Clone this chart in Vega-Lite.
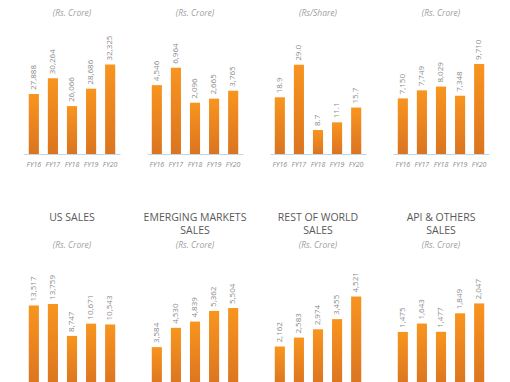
{
  "$schema": "https://vega.github.io/schema/vega-lite/v6.json",
  "padding": {"left": 24, "top": 8, "right": 5, "bottom": 5},
  "background": "white",
  "config": {
    "view": {"stroke": null},
    "font": "Open Sans",
    "title": {"anchor": "middle", "font": "Open Sans", "fontSize": 10.5, "fontWeight": "normal", "color": "#595959", "lineHeight": 13.5, "subtitleFont": "Open Sans", "subtitleFontSize": 8.5, "subtitleFontStyle": "italic", "subtitleColor": "#a0a0a0", "subtitlePadding": 4, "offset": 7},
    "axisX": {"labelFontSize": 7, "labelFontStyle": "italic", "labelColor": "#8c8c8c", "labelAngle": 0, "ticks": false, "domainColor": "#bdd7ee", "domainWidth": 1, "labelPadding": 6, "title": null, "grid": false},
    "bar": {"color": {"gradient": "linear", "x1": 0, "y1": 0, "x2": 0, "y2": 1, "stops": [{"offset": 0, "color": "#F8951F"}, {"offset": 1, "color": "#DB7420"}]}},
    "text": {"angle": 270, "align": "left", "baseline": "middle", "dx": 4, "fontSize": 8, "color": "#8a8a8a"}
  },
  "datasets": {
    "d": [
      {"panel": "p1", "year": "FY16", "value": 27888},
      {"panel": "p1", "year": "FY17", "value": 30264},
      {"panel": "p1", "year": "FY18", "value": 26066},
      {"panel": "p1", "year": "FY19", "value": 28686},
      {"panel": "p1", "year": "FY20", "value": 32325},
      {"panel": "p2", "year": "FY16", "value": 4546},
      {"panel": "p2", "year": "FY17", "value": 6964},
      {"panel": "p2", "year": "FY18", "value": 2096},
      {"panel": "p2", "year": "FY19", "value": 2665},
      {"panel": "p2", "year": "FY20", "value": 3765},
      {"panel": "p3", "year": "FY16", "value": 18.9},
      {"panel": "p3", "year": "FY17", "value": 29.0},
      {"panel": "p3", "year": "FY18", "value": 8.7},
      {"panel": "p3", "year": "FY19", "value": 11.1},
      {"panel": "p3", "year": "FY20", "value": 15.7},
      {"panel": "p4", "year": "FY16", "value": 7150},
      {"panel": "p4", "year": "FY17", "value": 7749},
      {"panel": "p4", "year": "FY18", "value": 8029},
      {"panel": "p4", "year": "FY19", "value": 7348},
      {"panel": "p4", "year": "FY20", "value": 9710},
      {"panel": "us", "year": "FY16", "value": 13517},
      {"panel": "us", "year": "FY17", "value": 13759},
      {"panel": "us", "year": "FY18", "value": 8747},
      {"panel": "us", "year": "FY19", "value": 10671},
      {"panel": "us", "year": "FY20", "value": 10543},
      {"panel": "em", "year": "FY16", "value": 3584},
      {"panel": "em", "year": "FY17", "value": 4530},
      {"panel": "em", "year": "FY18", "value": 4839},
      {"panel": "em", "year": "FY19", "value": 5362},
      {"panel": "em", "year": "FY20", "value": 5504},
      {"panel": "row", "year": "FY16", "value": 2162},
      {"panel": "row", "year": "FY17", "value": 2583},
      {"panel": "row", "year": "FY18", "value": 2974},
      {"panel": "row", "year": "FY19", "value": 3455},
      {"panel": "row", "year": "FY20", "value": 4521},
      {"panel": "api", "year": "FY16", "value": 1475},
      {"panel": "api", "year": "FY17", "value": 1643},
      {"panel": "api", "year": "FY18", "value": 1477},
      {"panel": "api", "year": "FY19", "value": 1849},
      {"panel": "api", "year": "FY20", "value": 2047}
    ]
  },
  "vconcat": [
    {
      "bounds": "flush",
      "spacing": 27,
      "hconcat": [
        {
          "width": 96, "height": 130,
          "title": {"text": "(Rs. Crore)", "fontSize": 8.5, "fontStyle": "italic", "color": "#a0a0a0"},
          "data": {"name": "d"},
          "transform": [{"filter": {"field": "panel", "equal": "p1"}}],
          "encoding": {
            "x": {"field": "year", "type": "nominal", "scale": {"paddingInner": 0.47, "paddingOuter": 0.25}},
            "y": {"field": "value", "type": "quantitative", "scale": {"domain": [18850, 38428], "zero": false, "nice": false}, "axis": null}
          },
          "layer": [
            {"mark": "bar", "encoding": {"y2": {"datum": 18850}}},
            {"mark": "text", "encoding": {"text": {"field": "value", "type": "quantitative", "format": ","}}}
          ]
        },
        {
          "width": 96, "height": 130,
          "title": {"text": "(Rs. Crore)", "fontSize": 8.5, "fontStyle": "italic", "color": "#a0a0a0"},
          "data": {"name": "d"},
          "transform": [{"filter": {"field": "panel", "equal": "p2"}}],
          "encoding": {
            "x": {"field": "year", "type": "nominal", "scale": {"paddingInner": 0.47, "paddingOuter": 0.25}},
            "y": {"field": "value", "type": "quantitative", "scale": {"domain": [-5059, 13072], "zero": false, "nice": false}, "axis": null}
          },
          "layer": [
            {"mark": "bar", "encoding": {"y2": {"datum": -5059}}},
            {"mark": "text", "encoding": {"text": {"field": "value", "type": "quantitative", "format": ","}}}
          ]
        },
        {
          "width": 96, "height": 130,
          "title": {"text": "(Rs/Share)", "fontSize": 8.5, "fontStyle": "italic", "color": "#a0a0a0"},
          "data": {"name": "d"},
          "transform": [{"filter": {"field": "panel", "equal": "p3"}}],
          "encoding": {
            "x": {"field": "year", "type": "nominal", "scale": {"paddingInner": 0.47, "paddingOuter": 0.25}},
            "y": {"field": "value", "type": "quantitative", "scale": {"domain": [1.23, 41.73], "zero": false, "nice": false}, "axis": null}
          },
          "layer": [
            {"mark": "bar", "encoding": {"y2": {"datum": 1.23}}},
            {"mark": "text", "encoding": {"text": {"field": "value", "type": "quantitative", "format": ".1f"}}}
          ]
        },
        {
          "width": 96, "height": 130,
          "title": {"text": "(Rs. Crore)", "fontSize": 8.5, "fontStyle": "italic", "color": "#a0a0a0"},
          "data": {"name": "d"},
          "transform": [{"filter": {"field": "panel", "equal": "p4"}}],
          "encoding": {
            "x": {"field": "year", "type": "nominal", "scale": {"paddingInner": 0.47, "paddingOuter": 0.25}},
            "y": {"field": "value", "type": "quantitative", "scale": {"domain": [3019, 12677], "zero": false, "nice": false}, "axis": null}
          },
          "layer": [
            {"mark": "bar", "encoding": {"y2": {"datum": 3019}}},
            {"mark": "text", "encoding": {"text": {"field": "value", "type": "quantitative", "format": ","}}}
          ]
        }
      ]
    },
    {
      "bounds": "flush",
      "spacing": 27,
      "hconcat": [
        {
          "width": 96, "height": 130,
          "title": {"text": ["US SALES", " "], "subtitle": "(Rs. Crore)"},
          "data": {"name": "d"},
          "transform": [{"filter": {"field": "panel", "equal": "us"}}],
          "encoding": {
            "x": {"field": "year", "type": "nominal", "scale": {"paddingInner": 0.47, "paddingOuter": 0.25}, "axis": {"labels": false}},
            "y": {"field": "value", "type": "quantitative", "scale": {"domain": [898, 21274], "zero": false, "nice": false}, "axis": null}
          },
          "layer": [
            {"mark": "bar", "encoding": {"y2": {"datum": 898}}},
            {"mark": "text", "encoding": {"text": {"field": "value", "type": "quantitative", "format": ","}}}
          ]
        },
        {
          "width": 96, "height": 130,
          "title": {"text": ["EMERGING MARKETS", "SALES"], "subtitle": "(Rs. Crore)"},
          "data": {"name": "d"},
          "transform": [{"filter": {"field": "panel", "equal": "em"}}],
          "encoding": {
            "x": {"field": "year", "type": "nominal", "scale": {"paddingInner": 0.47, "paddingOuter": 0.25}, "axis": {"labels": false}},
            "y": {"field": "value", "type": "quantitative", "scale": {"domain": [1673, 8061], "zero": false, "nice": false}, "axis": null}
          },
          "layer": [
            {"mark": "bar", "encoding": {"y2": {"datum": 1673}}},
            {"mark": "text", "encoding": {"text": {"field": "value", "type": "quantitative", "format": ","}}}
          ]
        },
        {
          "width": 96, "height": 130,
          "title": {"text": ["REST OF WORLD", "SALES"], "subtitle": "(Rs. Crore)"},
          "data": {"name": "d"},
          "transform": [{"filter": {"field": "panel", "equal": "row"}}],
          "encoding": {
            "x": {"field": "year", "type": "nominal", "scale": {"paddingInner": 0.47, "paddingOuter": 0.25}, "axis": {"labels": false}},
            "y": {"field": "value", "type": "quantitative", "scale": {"domain": [295, 6436], "zero": false, "nice": false}, "axis": null}
          },
          "layer": [
            {"mark": "bar", "encoding": {"y2": {"datum": 295}}},
            {"mark": "text", "encoding": {"text": {"field": "value", "type": "quantitative", "format": ","}}}
          ]
        },
        {
          "width": 96, "height": 130,
          "title": {"text": ["API & OTHERS", "SALES"], "subtitle": "(Rs. Crore)"},
          "data": {"name": "d"},
          "transform": [{"filter": {"field": "panel", "equal": "api"}}],
          "encoding": {
            "x": {"field": "year", "type": "nominal", "scale": {"paddingInner": 0.47, "paddingOuter": 0.25}, "axis": {"labels": false}},
            "y": {"field": "value", "type": "quantitative", "scale": {"domain": [389, 2999], "zero": false, "nice": false}, "axis": null}
          },
          "layer": [
            {"mark": "bar", "encoding": {"y2": {"datum": 389}}},
            {"mark": "text", "encoding": {"text": {"field": "value", "type": "quantitative", "format": ","}}}
          ]
        }
      ]
    }
  ],
  "spacing": 232,
  "bounds": "flush"
}
